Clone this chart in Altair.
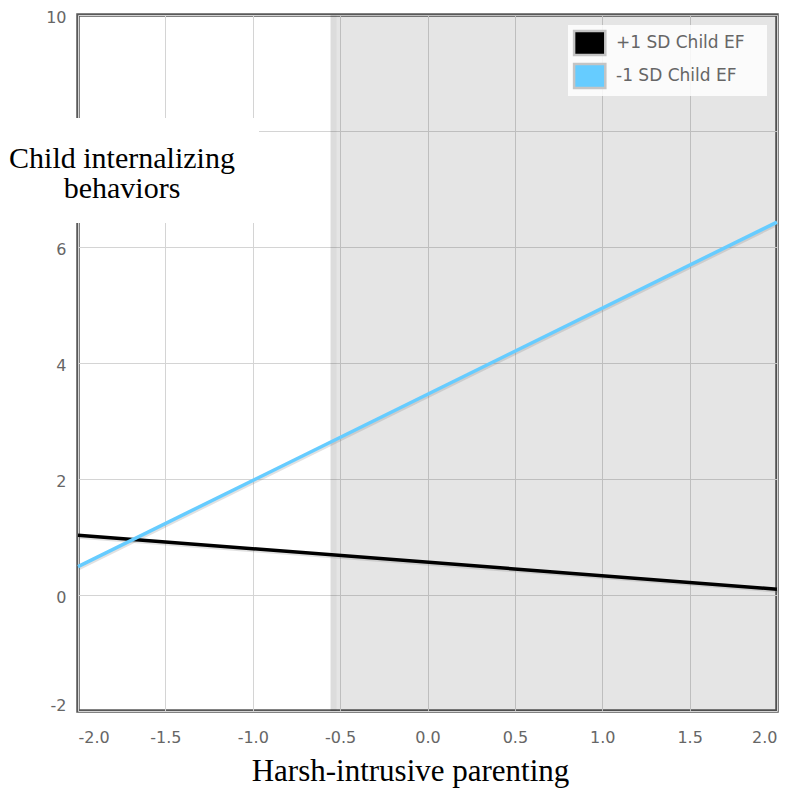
import altair as alt
import pandas as pd

# ---- data ----
x_ends = [-2.0, 2.0]
series_names = ["+1 SD Child EF", "-1 SD Child EF"]
plus1_y = [1.03, 0.10]
minus1_y = [0.49, 6.43]
series_colors = ["#000000", "#66CCFF"]

shade_x = [-0.555, 2.0]
band_x = [-0.555, -0.52]
y_range = [-2, 10]

x_ticks = [-2.0, -1.5, -1.0, -0.5, 0.0, 0.5, 1.0, 1.5, 2.0]
y_ticks = [-2, 0, 2, 4, 6, 8, 10]
y_hidden_label = 8  # covered by the title box in the reference

y_title_lines = ["Child internalizing", "behaviors"]
x_title = "Harsh-intrusive parenting"

rows = []
for name, ys in zip(series_names, [plus1_y, minus1_y]):
    for xv, yv in zip(x_ends, ys):
        rows.append({"x": xv, "y": yv, "series": name})
lines_df = pd.DataFrame(rows)

shade_df = pd.DataFrame([{"x": shade_x[0], "x2": shade_x[1], "y": y_range[0], "y2": y_range[1]}])
band_df = pd.DataFrame([{"x": band_x[0], "x2": band_x[1], "y": y_range[0], "y2": y_range[1]}])
one_df = pd.DataFrame([{"k": 0}])

xscale = alt.Scale(domain=x_ends, nice=False, zero=False)
yscale = alt.Scale(domain=y_range, nice=False, zero=False)
color_scale = alt.Scale(domain=series_names, range=series_colors)

label_font = "DejaVu Sans"

x_axis = alt.Axis(
    values=x_ticks,
    labelExpr="replace(format(datum.value, '.1f'), '\u2212', '-')",
    labelFont=label_font, labelFontSize=16, labelColor="#666666",
    labelPadding=18, ticks=False, domain=False,
    grid=True, gridColor="#d4d4d4", gridWidth=1,
    title=x_title, titleFont="Liberation Serif", titleFontSize=31,
    titleFontWeight="normal", titleColor="#000000",
    titleX=332, titleY=69, titleAlign="center", titleBaseline="alphabetic",
)
y_axis = alt.Axis(
    values=y_ticks,
    labelExpr=f"datum.value == {y_hidden_label} ? '' : replace(format(datum.value, 'd'), '\u2212', '-')",
    labelFont=label_font, labelFontSize=16, labelColor="#666666",
    labelPadding=12, labelOffset=2,
    labelBaseline={"condition": {"test": "datum.value == -2", "value": "bottom"}, "value": "middle"},
    ticks=False, domain=False,
    grid=True, gridColor="#d4d4d4", gridWidth=1,
    title=None,
)

shade = alt.Chart(shade_df).mark_rect(color="#000000", opacity=0.1).encode(
    x=alt.X("x:Q", scale=xscale, axis=x_axis),
    x2="x2:Q",
    y=alt.Y("y:Q", scale=yscale, axis=y_axis),
    y2="y2:Q",
)
band = alt.Chart(band_df).mark_rect(color="#000000", opacity=0.035).encode(
    x=alt.X("x:Q", scale=xscale), x2="x2:Q",
    y=alt.Y("y:Q", scale=yscale), y2="y2:Q",
)

shadow = alt.Chart(lines_df).mark_line(color="#777777", opacity=0.22, strokeWidth=3, yOffset=2, xOffset=1).encode(
    x=alt.X("x:Q", scale=xscale),
    y=alt.Y("y:Q", scale=yscale),
    detail="series:N",
)

lines = alt.Chart(lines_df).mark_line(strokeWidth=3.5).encode(
    x=alt.X("x:Q", scale=xscale),
    y=alt.Y("y:Q", scale=yscale),
    stroke=alt.Stroke("series:N", scale=color_scale, legend=None),
)

# ---- legend box drawn with marks (layout offsets only, in pixels) ----
legend_bg = alt.Chart(one_df).mark_rect(color="#ffffff", opacity=0.85).encode(
    x=alt.value(490), x2=alt.value(689), y=alt.value(10), y2=alt.value(81),
)
legend_layers = [legend_bg]
row_y = [28, 61]
for name, ry in zip(series_names, row_y):
    entry_df = pd.DataFrame({"entry": [name]})
    legend_layers.append(
        alt.Chart(entry_df).mark_point(
            shape="M-1.3,-1H1.3V1H-1.3Z", size=576, filled=True, opacity=1,
            stroke="#c4c4c4", strokeWidth=2.5,
        ).encode(
            x=alt.value(511.7), y=alt.value(ry),
            fill=alt.Fill("entry:N", scale=color_scale, legend=None),
        )
    )
    legend_layers.append(
        alt.Chart(entry_df).mark_text(
            font=label_font, fontSize=17, color="#666666", align="left", baseline="middle",
        ).encode(x=alt.value(538), y=alt.value(ry), text="entry:N")
    )

white_box = alt.Chart(one_df).mark_rect(color="#ffffff").encode(
    x=alt.value(-70), x2=alt.value(181), y=alt.value(103), y2=alt.value(208),
)

y_title = alt.Chart(one_df).mark_text(
    text=y_title_lines, font="Liberation Serif", fontSize=30, lineHeight=30,
    align="center", baseline="alphabetic", color="#000000",
).encode(x=alt.value(44), y=alt.value(153))

chart = alt.layer(shade, band, shadow, lines, *legend_layers, white_box, y_title).properties(
    width=699, height=696,
    padding={"left": 70, "top": 7, "right": 14, "bottom": 77},
    autosize=alt.AutoSizeParams(type="none"),
).configure_view(stroke="#595959", strokeWidth=3.5)

chart.save("out.html", embed_options={"renderer": "svg", "actions": False})
